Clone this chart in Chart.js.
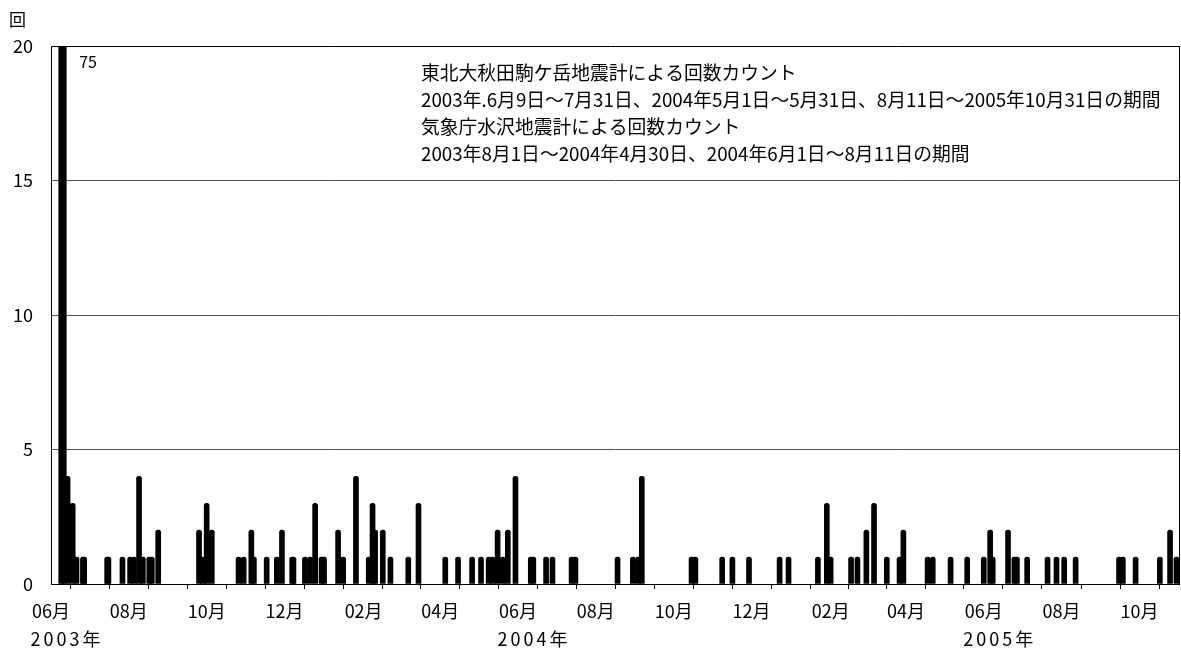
<!DOCTYPE html>
<html><head><meta charset="utf-8">
<script src="https://cdn.jsdelivr.net/npm/chart.js@4.4.1/dist/chart.umd.min.js"></script>
<style>html,body{margin:0;padding:0;background:#fff}#wrap{width:1181px;height:650px;position:relative}</style>
</head><body><div id="wrap"><canvas id="c"></canvas></div>
<script>
// ---- data ----
const startDate = '2003-06-01';
const endDate = '2005-11-01';
const eventDates = [
 '2003-06-09','2003-06-11','2003-06-14','2003-06-18','2003-06-21','2003-06-26','2003-06-27','2003-07-15','2003-07-16','2003-07-27',
 '2003-08-02','2003-08-05','2003-08-09','2003-08-12','2003-08-17','2003-08-19','2003-08-24','2003-09-25','2003-09-28','2003-10-01',
 '2003-10-05','2003-10-26','2003-10-30','2003-11-05','2003-11-07','2003-11-17','2003-11-25','2003-11-29','2003-12-07','2003-12-08',
 '2003-12-17','2003-12-21','2003-12-25','2003-12-30','2004-01-01','2004-01-12','2004-01-16','2004-01-26','2004-02-05','2004-02-08',
 '2004-02-10','2004-02-16','2004-02-22','2004-03-07','2004-03-15','2004-04-05','2004-04-15','2004-04-26','2004-05-03','2004-05-09',
 '2004-05-12','2004-05-16','2004-05-20','2004-05-24','2004-05-30','2004-06-11','2004-06-13','2004-06-23','2004-06-28','2004-07-13',
 '2004-07-16','2004-08-18','2004-08-30','2004-09-03','2004-09-06','2004-10-15','2004-10-18','2004-11-08','2004-11-16','2004-11-29',
 '2004-12-23','2004-12-30','2005-01-22','2005-01-29','2005-02-01','2005-02-17','2005-02-22','2005-03-01','2005-03-07','2005-03-17',
 '2005-03-27','2005-03-30','2005-04-18','2005-04-22','2005-05-06','2005-05-19','2005-06-01','2005-06-06','2005-06-08','2005-06-20',
 '2005-06-25','2005-06-27','2005-07-05','2005-07-21','2005-07-28','2005-08-03','2005-08-12','2005-09-15','2005-09-18','2005-09-28',
 '2005-10-17','2005-10-25','2005-10-30'
];
const eventCounts = [
 75,25,4,3,1,1,1,1,1,1,
 1,1,4,1,1,1,2,2,1,3,
 2,1,1,2,1,1,1,2,1,1,
 1,1,3,1,1,2,1,4,1,3,
 2,2,1,1,3,1,1,1,1,1,
 1,2,1,2,4,1,1,1,1,1,
 1,1,1,1,4,1,1,1,1,1,
 1,1,1,3,1,1,1,2,3,1,
 1,2,1,1,1,1,1,2,1,2,
 1,1,1,1,1,1,1,1,1,1,
 1,2,1
];
const peakDate = '2003-06-09';
const peakLabel = '75';
const yMax = 20;
const yStep = 5;
const yUnit = '回';
const yearLabels = ['2003年','2004年','2005年'];
const yearTickDates = ['2003-06-01','2004-06-01','2005-06-01'];
const noteLines = [
 '東北大秋田駒ケ岳地震計による回数カウント',
 '2003年.6月9日～7月31日、2004年5月1日～5月31日、8月11日～2005年10月31日の期間',
 '気象庁水沢地震計による回数カウント',
 '2003年8月1日～2004年4月30日、2004年6月1日～8月11日の期間'
];

// ---- helpers ----
const DAY = 86400000;
const t0 = Date.parse(startDate);
const dayIndex = s => (Date.parse(s) - t0) / DAY;
const monthTicks = [];
const monthOf = {};
{
  let y = 2003, m = 5;
  while (true) {
    const v = (Date.UTC(y, m, 1) - t0) / DAY;
    if (v > dayIndex(endDate)) break;
    monthTicks.push(v); monthOf[v] = m + 1;
    m++; if (m > 11) { m = 0; y++; }
  }
}
const points = eventDates.map((d, i) => ({x: dayIndex(d), y: eventCounts[i]}));

const FONT = '"Noto Sans CJK JP", "Noto Sans", sans-serif';
Chart.defaults.font.family = FONT;
Chart.defaults.color = '#000';

const extras = {
  id: 'extras',
  afterDraw(chart) {
    const {ctx, chartArea: a, scales} = chart;
    ctx.save();
    // right border
    ctx.strokeStyle = '#000'; ctx.lineWidth = 1;
    ctx.beginPath(); ctx.moveTo(a.right + 0.5, a.top); ctx.lineTo(a.right + 0.5, a.bottom); ctx.stroke();
    ctx.fillStyle = '#000';
    // unit
    ctx.font = '17px ' + FONT; ctx.textAlign = 'left'; ctx.textBaseline = 'middle';
    ctx.fillText(yUnit, 9, 20);
    // peak value label
    ctx.font = '16px ' + FONT;
    ctx.fillText(peakLabel, scales.x.getPixelForValue(dayIndex(peakDate)) + 18, a.top + 16);
    // notes
    ctx.font = '18.8px ' + FONT;
    noteLines.forEach((t, i) => ctx.fillText(t, 421, 73 + i * 27));
    // year labels
    ctx.font = '18px ' + FONT;
    if ('letterSpacing' in ctx) ctx.letterSpacing = '3px';
    ctx.textAlign = 'center';
    yearTickDates.forEach((d, i) => ctx.fillText(yearLabels[i], scales.x.getPixelForValue(dayIndex(d)) + 16, 639));
    ctx.restore();
  }
};

new Chart(document.getElementById('c'), {
  type: 'bar',
  data: { datasets: [{
    data: points,
    backgroundColor: '#000',
    borderWidth: 0,
    barThickness: 5,
    borderRadius: {topLeft: 2.5, topRight: 2.5, bottomLeft: 0, bottomRight: 0},
    borderSkipped: 'start'
  }]},
  options: {
    responsive: true, maintainAspectRatio: false, animation: false,
    layout: { padding: {left: 0, top: 46, right: 2, bottom: 0} },
    plugins: { legend: {display: false}, tooltip: {enabled: false} },
    scales: {
      x: {
        type: 'linear', offset: false,
        min: 0, max: dayIndex(endDate),
        afterBuildTicks: s => { s.ticks = monthTicks.map(v => ({value: v})); },
        afterFit: s => { s.height = 66; s.paddingLeft = 0; s.paddingRight = 0; },
        ticks: {
          autoSkip: false, maxRotation: 0, padding: 11,
          font: {size: 18},
          callback: v => { const m = monthOf[v]; return (m % 2 === 0) ? String(m).padStart(2, '0') + '月' : ''; }
        },
        grid: { drawOnChartArea: false, drawTicks: true, tickLength: 5, color: '#000' },
        border: { display: true, color: '#000', width: 1 }
      },
      y: {
        min: 0, max: yMax,
        afterFit: s => { s.width = 51; },
        ticks: { stepSize: yStep, padding: 18, font: {size: 18} },
        grid: { drawTicks: false, color: c => c.tick && c.tick.value === yMax ? '#000' : '#555' },
        border: { display: true, color: '#000', width: 1 }
      }
    }
  },
  plugins: [extras]
});
</script>
</body></html>
